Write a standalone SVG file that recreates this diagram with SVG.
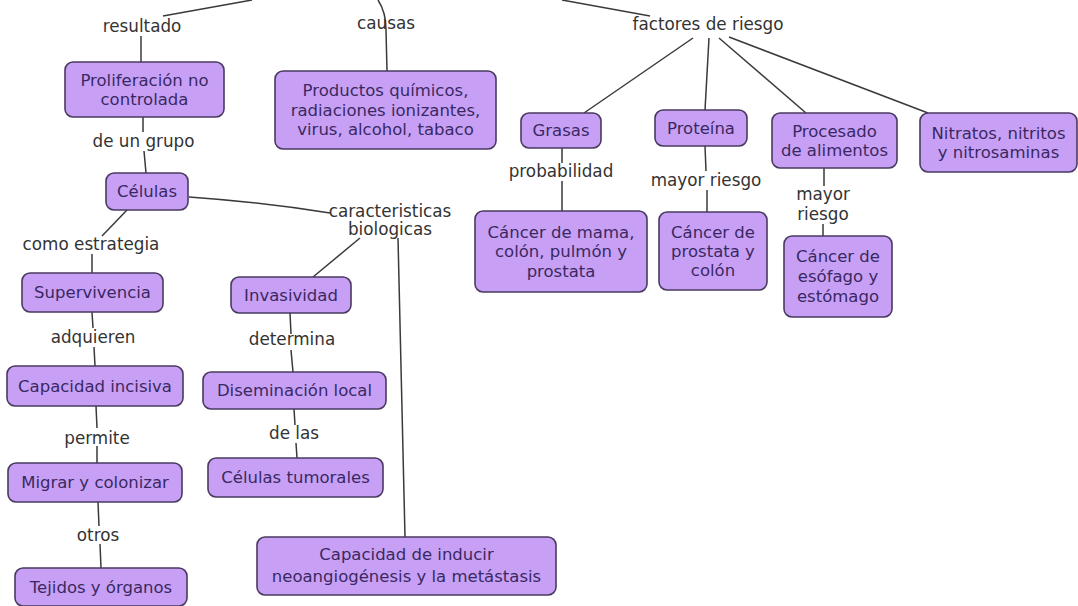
<svg xmlns="http://www.w3.org/2000/svg" width="1078" height="606" viewBox="0 0 1078 606">
<style>
.n{fill:#c7a0f6;stroke:#4a3a60;stroke-width:1.6}
.t{font-family:"DejaVu Sans",Verdana,sans-serif;font-size:16.5px;fill:#3a2862;text-anchor:middle}
.l{font-family:"DejaVu Sans",Verdana,sans-serif;font-size:16.8px;fill:#333;text-anchor:middle}
.c{fill:none;stroke:#3a3a3a;stroke-width:1.5}
</style>
<rect width="1078" height="606" fill="#fff"/>
<g id="connectors">
<path class="c" d="M163 16 L252 0"/>
<path class="c" d="M141 36 L141 62"/>
<path class="c" d="M378 0 Q386 12 386 30 L387 71"/>
<path class="c" d="M562 0 L650 16"/>
<path class="c" d="M693 38 L584 113"/>
<path class="c" d="M709 38 L705 110"/>
<path class="c" d="M719 38 L806 113"/>
<path class="c" d="M729 37 L928 113"/>
<path class="c" d="M143 117 L143 132 M144 151 L146 173"/>
<path class="c" d="M189 197 Q260 202 330 213"/>
<path class="c" d="M127 210 L102 236"/>
<path class="c" d="M92 254 L92 273"/>
<path class="c" d="M360 238 L313 277"/>
<path class="c" d="M398 238 L405 537"/>
<path class="c" d="M290 313 L291 334 M291 350 L293 372"/>
<path class="c" d="M294 409 L295 425 M296 443 L297 458"/>
<path class="c" d="M92 312 L93 328 M94 347 L95 366"/>
<path class="c" d="M96 406 L97 428 M97 446 L97 463"/>
<path class="c" d="M98 502 L99 526 M100 544 L101 568"/>
<path class="c" d="M562 148 L562 163 M562 181 L562 211"/>
<path class="c" d="M705 146 L706 171 M707 190 L707 212"/>
<path class="c" d="M824 168 L824 186 M823 224 L823 236"/>
</g>
<g id="labels">
<text class="l" x="142" y="31.5">resultado</text>
<text class="l" x="386" y="28.5">causas</text>
<text class="l" x="708" y="29.5">factores de riesgo</text>
<text class="l" x="143.5" y="146.5">de un grupo</text>
<text class="l" x="561" y="176.5">probabilidad</text>
<text class="l" x="706" y="185.5">mayor riesgo</text>
<text class="l" x="823" y="199.5">mayor</text>
<text class="l" x="823" y="219.5">riesgo</text>
<text class="l" x="390" y="216.5">caracteristicas</text>
<text class="l" x="390" y="234.5">biologicas</text>
<text class="l" x="91" y="249.5">como estrategia</text>
<text class="l" x="93" y="342.5">adquieren</text>
<text class="l" x="97" y="443.5">permite</text>
<text class="l" x="98" y="540.5">otros</text>
<text class="l" x="292" y="344.5">determina</text>
<text class="l" x="294" y="438.5">de las</text>
</g>
<g id="n-proliferacion"><rect class="n" x="65" y="62" width="159" height="55" rx="8"/><text class="t" x="144.5" y="85.5">Proliferación no</text><text class="t" x="144.5" y="104.5">controlada</text></g>
<g id="n-productos"><rect class="n" x="275" y="71" width="221" height="78" rx="8"/><text class="t" x="385.5" y="96">Productos químicos,</text><text class="t" x="385.5" y="115.5">radiaciones ionizantes,</text><text class="t" x="385.5" y="135">virus, alcohol, tabaco</text></g>
<g id="n-celulas"><rect class="n" x="106" y="173" width="82" height="37" rx="8"/><text class="t" x="147" y="197">Células</text></g>
<g id="n-grasas"><rect class="n" x="521" y="113" width="80" height="35" rx="8"/><text class="t" x="561" y="136">Grasas</text></g>
<g id="n-proteina"><rect class="n" x="655" y="110" width="92" height="36" rx="8"/><text class="t" x="701" y="133.5">Proteína</text></g>
<g id="n-procesado"><rect class="n" x="772" y="113" width="125" height="55" rx="8"/><text class="t" x="834.5" y="136.5">Procesado</text><text class="t" x="834.5" y="155.5">de alimentos</text></g>
<g id="n-nitratos"><rect class="n" x="920" y="113" width="157" height="59" rx="8"/><text class="t" x="998.5" y="138.5">Nitratos, nitritos</text><text class="t" x="998.5" y="157.5">y nitrosaminas</text></g>
<g id="n-mama"><rect class="n" x="475" y="211" width="172" height="81" rx="8"/><text class="t" x="561" y="237.5">Cáncer de mama,</text><text class="t" x="561" y="257">colón, pulmón y</text><text class="t" x="561" y="276.5">prostata</text></g>
<g id="n-prostata"><rect class="n" x="659" y="212" width="108" height="78" rx="8"/><text class="t" x="713" y="237.5">Cáncer de</text><text class="t" x="713" y="257">prostata y</text><text class="t" x="713" y="276">colón</text></g>
<g id="n-esofago"><rect class="n" x="784" y="236" width="108" height="81" rx="8"/><text class="t" x="838" y="261.5">Cáncer de</text><text class="t" x="838" y="281.5">esófago y</text><text class="t" x="838" y="301.5">estómago</text></g>
<g id="n-supervivencia"><rect class="n" x="22" y="273" width="141" height="39" rx="8"/><text class="t" x="92.5" y="298">Supervivencia</text></g>
<g id="n-capacidad-incisiva"><rect class="n" x="7" y="366" width="176" height="40" rx="8"/><text class="t" x="95" y="391.5">Capacidad incisiva</text></g>
<g id="n-migrar"><rect class="n" x="8" y="463" width="174" height="39" rx="8"/><text class="t" x="95" y="488">Migrar y colonizar</text></g>
<g id="n-tejidos"><rect class="n" x="15" y="568" width="172" height="38" rx="8"/><text class="t" x="101" y="592.5">Tejidos y órganos</text></g>
<g id="n-invasividad"><rect class="n" x="231" y="277" width="120" height="36" rx="8"/><text class="t" x="291" y="300.5">Invasividad</text></g>
<g id="n-diseminacion"><rect class="n" x="203" y="372" width="183" height="37" rx="8"/><text class="t" x="294.5" y="396">Diseminación local</text></g>
<g id="n-tumorales"><rect class="n" x="208" y="458" width="175" height="39" rx="8"/><text class="t" x="295.5" y="483">Células tumorales</text></g>
<g id="n-inducir"><rect class="n" x="257" y="537" width="299" height="58" rx="8"/><text class="t" x="406.5" y="560">Capacidad de inducir</text><text class="t" x="406.5" y="581.5">neoangiogénesis y la metástasis</text></g>
</svg>
